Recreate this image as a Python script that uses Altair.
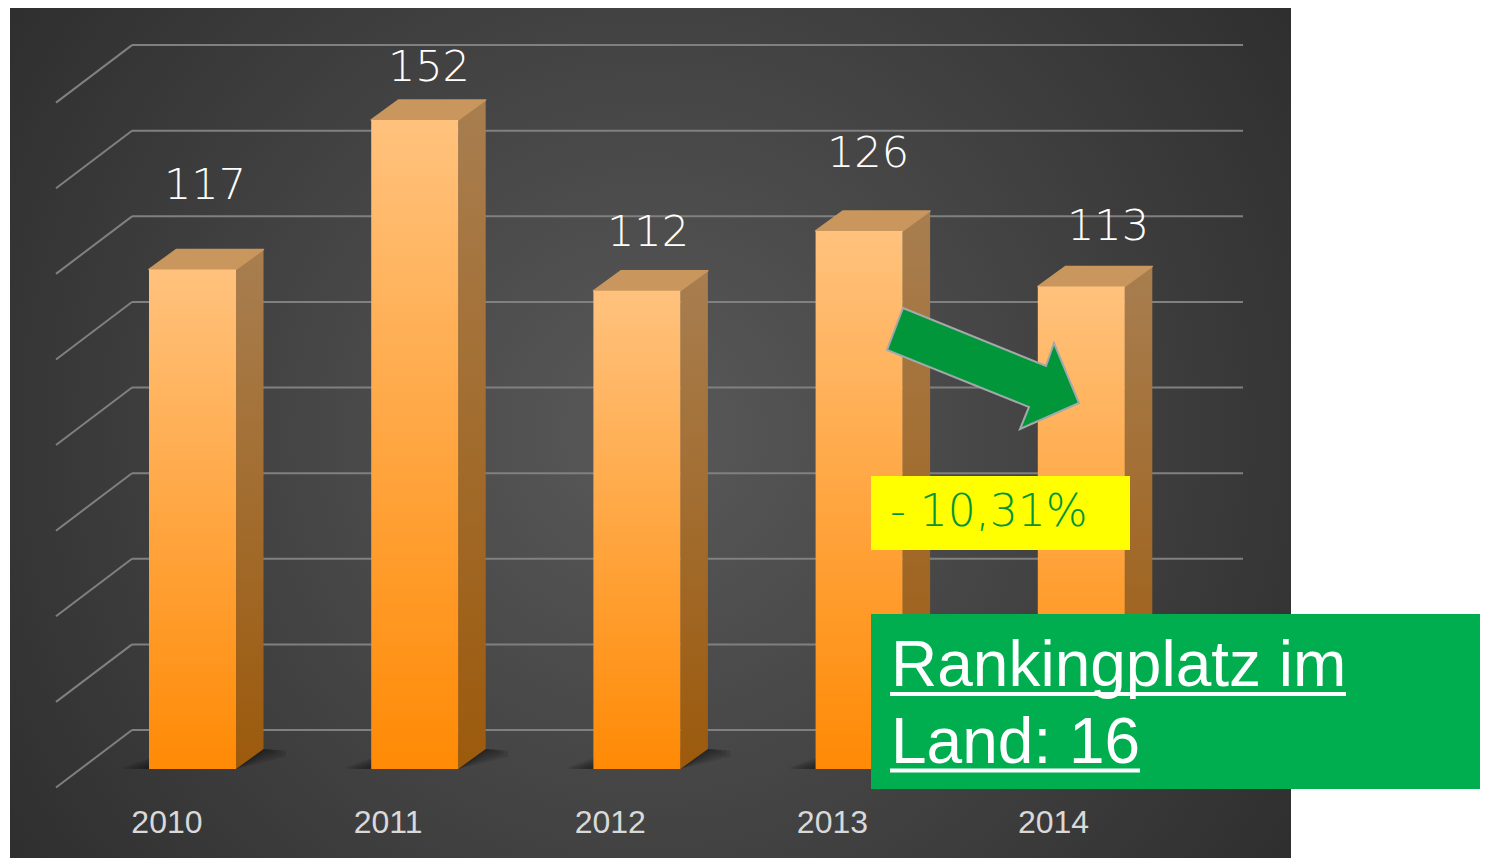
import altair as alt
import pandas as pd

# ---- values ----
years = [2010, 2011, 2012, 2013, 2014]
values = [117, 152, 112, 126, 113]
grid_values = [0, 20, 40, 60, 80, 100, 120, 140, 160]
label_x = [2010.056, 2011.064, 2012.05, 2013.04, 2014.12]
label_y = [133.5, 161.1, 122.5, 141, 124]
year_label_x = [2009.885, 2010.88, 2011.88, 2012.88, 2013.875]

W, H = 1472, 850
PX_YEAR, PX_UNIT = 222.2, 4.27
X_DOMAIN = [2010 + (8 - 192.5) / PX_YEAR, 2010 + (8 + W - 192.5) / PX_YEAR]
Y_DOMAIN = [(769 - 8 - H) / PX_UNIT, (769 - 8) / PX_UNIT]
xs = alt.Scale(domain=X_DOMAIN, nice=False, zero=False)
ys = alt.Scale(domain=Y_DOMAIN, nice=False, zero=False)

half = 43.5 / PX_YEAR
dx = 27.5 / PX_YEAR
dy = 20 / PX_UNIT

def X(f="x"):
    return alt.X(f"{f}:Q", scale=xs, axis=None)

def Y(f="y"):
    return alt.Y(f"{f}:Q", scale=ys, axis=None)

def vgrad(c1, c2):
    return alt.LinearGradient(
        gradient="linear", x1=0, y1=0, x2=0, y2=1,
        stops=[alt.GradientStop(offset=0, color=c1), alt.GradientStop(offset=1, color=c2)],
    )

front = pd.DataFrame(
    [{"x": y - half, "x2": y + half, "y": v, "y2": 0} for y, v in zip(years, values)]
)
side, top, shadow = [], [], []
for y, v in zip(years, values):
    r, l = y + half, y - half
    side += [
        {"g": y, "x": r, "y": v, "y2": 0},
        {"g": y, "x": r + dx, "y": v + dy, "y2": dy},
    ]
    top += [
        {"g": y, "x": l, "y": v, "y2": v},
        {"g": y, "x": l + dx, "y": v + dy, "y2": v},
        {"g": y, "x": r, "y": v + dy, "y2": v},
        {"g": y, "x": r + dx, "y": v + dy, "y2": v + dy},
    ]
for grow in (5, 10, 15, 20, 25):
    g = grow / PX_YEAR
    g2 = grow / PX_UNIT / 3
    for y in years:
        r, l = y + half, y - half
        k = f"{y}-{grow}"
        shadow += [
            {"g": k, "x": l - g, "y": 0.4, "y2": 0},
            {"g": k, "x": l, "y": g2 * 1.1 + 0.4, "y2": 0},
            {"g": k, "x": r, "y": dy, "y2": 0},
            {"g": k, "x": r + dx, "y": dy, "y2": dy - g2 * 1.6},
            {"g": k, "x": r + dx + g * 0.9, "y": dy - g2 * 0.2, "y2": dy - g2 * 0.9},
        ]
grid_y = [v * 1.0025 + 9.13 for v in grid_values]
grid_h = pd.DataFrame(
    {"x": [2010 + (132 - 192.5) / PX_YEAR] * 9, "x2": [2010 + (1243 - 192.5) / PX_YEAR] * 9,
     "y": grid_y, "y2": grid_y}
)
grid_d = pd.DataFrame(
    {"x": [2010 + (132 - 192.5) / PX_YEAR] * 9, "x2": [2010 + (56 - 192.5) / PX_YEAR] * 9,
     "y": grid_y, "y2": [g - 57.5 / PX_UNIT for g in grid_y]}
)
labels = pd.DataFrame({"x": label_x, "y": label_y, "t": [str(v) for v in values]})
ylabels = pd.DataFrame({"x": year_label_x, "y": [-15.0] * 5, "t": [str(y) for y in years]})

LIGHT = "DejaVu Sans"

one = pd.DataFrame({"a": [0]})

panel = alt.Chart(one).mark_rect(
    fill=alt.RadialGradient(
        gradient="radial", x1=0.5, y1=0.5, x2=0.5, y2=0.5, r1=0, r2=0.72,
        stops=[alt.GradientStop(offset=0, color="#595959"), alt.GradientStop(offset=1, color="#262626")],
    )
).encode(x=alt.value(2), x2=alt.value(1283), y=alt.value(0), y2=alt.value(H))

rule_h = alt.Chart(grid_h).mark_rule(color="#808080", strokeWidth=2).encode(
    x=X(), x2="x2:Q", y=Y(), y2="y2:Q")
rule_d = alt.Chart(grid_d).mark_rule(color="#808080", strokeWidth=2).encode(
    x=X(), x2="x2:Q", y=Y(), y2="y2:Q")

shadow_l = alt.Chart(pd.DataFrame(shadow)).mark_area(fill="#000000", opacity=0.1).encode(
    x=X(), y=Y(), y2="y2:Q", detail="g:N")
side_l = alt.Chart(pd.DataFrame(side)).mark_area(fill=vgrad("#A87E50", "#9C5A0C")).encode(
    x=X(), y=Y(), y2="y2:Q", detail="g:N")
top_l = alt.Chart(pd.DataFrame(top)).mark_area(
    fill="#C9975E", stroke="#C9975E", strokeWidth=1.5, strokeJoin="round"
).encode(x=X(), y=Y(), y2="y2:Q", detail="g:N")
front_l = alt.Chart(front).mark_rect(fill=vgrad("#FFC27D", "#FF8A05")).encode(
    x=X(), x2="x2:Q", y=Y(), y2="y2:Q")

lab = alt.Chart(labels).mark_text(
    font=LIGHT, fontWeight=200, fontSize=43, color="#FFFFFF", align="center", baseline="alphabetic"
).encode(x=X(), y=Y(), text="t:N")
ylab = alt.Chart(ylabels).mark_text(
    font="Liberation Sans", fontSize=32, color="#D9D9D9", align="center", baseline="alphabetic"
).encode(x=X(), y=Y(), text="t:N")

arrow_path = "M-77,-60 L66,-2 L74,-25 L99,35 L40,61 L49,39 L-93,-18 Z"
arrow = alt.Chart(one).mark_point(
    shape=arrow_path, size=4, filled=True, fill="#009639", stroke="#A3A9AA", strokeWidth=2, opacity=1
).encode(x=alt.value(972), y=alt.value(360))

yellow = alt.Chart(one).mark_rect(fill="#FFFF00").encode(
    x=alt.value(863), x2=alt.value(1122), y=alt.value(468), y2=alt.value(542))
pct = alt.Chart(pd.DataFrame({"t": ["- 10,31%"]})).mark_text(
    font=LIGHT, fontWeight=200, fontSize=44, color="#009639", align="left", baseline="alphabetic"
).encode(x=alt.value(882), y=alt.value(518), text="t:N")
green = alt.Chart(one).mark_rect(fill="#00AE50").encode(
    x=alt.value(863), x2=alt.value(W), y=alt.value(606), y2=alt.value(781))
t1 = alt.Chart(pd.DataFrame({"t": ["Rankingplatz im"]})).mark_text(
    font="Liberation Sans", fontSize=64, color="#FFFFFF", align="left", baseline="alphabetic"
).encode(x=alt.value(883), y=alt.value(678), text="t:N")
t2 = alt.Chart(pd.DataFrame({"t": ["Land: 16"]})).mark_text(
    font="Liberation Sans", fontSize=64, color="#FFFFFF", align="left", baseline="alphabetic"
).encode(x=alt.value(883), y=alt.value(755), text="t:N")
u1 = alt.Chart(one).mark_rule(color="#FFFFFF", strokeWidth=4).encode(
    x=alt.value(882), x2=alt.value(1338), y=alt.value(686), y2=alt.value(686))
u2 = alt.Chart(one).mark_rule(color="#FFFFFF", strokeWidth=4).encode(
    x=alt.value(882), x2=alt.value(1132), y=alt.value(762.5), y2=alt.value(762.5))

chart = alt.layer(
    panel, rule_h, rule_d, shadow_l, side_l, top_l, front_l, lab, ylab,
    arrow, yellow, pct, green, t1, t2, u1, u2,
).properties(
    width=W, height=H, padding=0, autosize=alt.AutoSizeParams(type="none"),
    background="#FFFFFF",
).configure_view(stroke=None)

chart.save("out.html", embed_options={"renderer": "svg", "actions": False})
